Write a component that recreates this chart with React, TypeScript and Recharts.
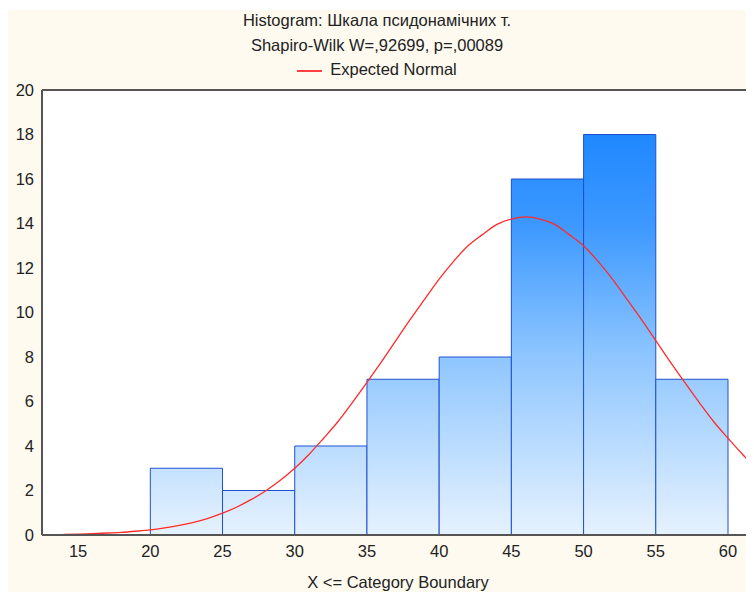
import React from 'react';
import { ComposedChart, Line, XAxis, YAxis, CartesianGrid, ReferenceArea, ReferenceLine } from 'recharts';

// histogram bins (lower bound, upper bound, count)
const binStarts = [20, 25, 30, 35, 40, 45, 50, 55];
const binEnds = [25, 30, 35, 40, 45, 50, 55, 60];
const binCounts = [3, 2, 4, 7, 8, 16, 18, 7];

// expected normal curve
const curveX = [14, 15, 16, 17, 18, 19, 20, 21, 22, 23, 24, 25, 26, 27, 28, 29, 30, 31, 32, 33, 34, 35, 36, 37, 38,
  39, 40, 41, 42, 43, 44, 45, 46, 47, 48, 49, 50, 51, 52, 53, 54, 55, 56, 57, 58, 59, 60, 61, 62];
const curveY = [0.03, 0.04, 0.06, 0.09, 0.12, 0.17, 0.23, 0.32, 0.43, 0.57, 0.75, 0.98, 1.26, 1.6, 1.99, 2.46, 3.0,
  3.63, 4.35, 5.1, 5.96, 6.86, 7.78, 8.74, 9.69, 10.6, 11.5, 12.3, 13.0, 13.5, 13.96, 14.2, 14.3, 14.2, 13.96, 13.5,
  13.0, 12.3, 11.5, 10.6, 9.69, 8.74, 7.78, 6.86, 5.96, 5.1, 4.35, 3.63, 3.0];

const xTicks = [15, 20, 25, 30, 35, 40, 45, 50, 55, 60];
const yTicks = [0, 2, 4, 6, 8, 10, 12, 14, 16, 18, 20];

const curveData = curveX.map((x, i) => ({ x, y: curveY[i] }));

const FONT = '"Liberation Sans", Arial, sans-serif';

const App = () => {
  return (
    <div style={{ position: 'relative', width: 746, height: 582, marginTop: 2, background: '#fefaf0', fontFamily: FONT }}>
      <div style={{ position: 'absolute', left: 0, width: 738, top: -2, textAlign: 'center', fontSize: 16.5, color: '#222', lineHeight: '24.5px' }}>
        <div>Histogram: Шкала псидонамічних т.</div>
        <div>Shapiro-Wilk W=,92699, p=,00089</div>
        <div>
          <span style={{ display: 'inline-block', width: 25, height: 0, borderTop: '2px solid #ff4040', verticalAlign: 'middle', marginRight: 8 }} />
          Expected Normal
        </div>
      </div>
      <ComposedChart width={746} height={582} data={curveData} margin={{ top: 80, right: 0, bottom: 0, left: 0 }}>
        <defs>
          <linearGradient id="barFill" gradientUnits="userSpaceOnUse" x1="0" y1="80" x2="0" y2="525">
            <stop offset="0%" stopColor="#1280ff" />
            <stop offset="30%" stopColor="#3c98ff" />
            <stop offset="60%" stopColor="#8fc6ff" />
            <stop offset="100%" stopColor="#e6f2fe" />
          </linearGradient>
        </defs>
        <rect x={34} y={80} width={712} height={445} fill="#ffffff" />
        <CartesianGrid horizontal vertical={false} stroke="#dddddd" />
        <XAxis
          dataKey="x"
          type="number"
          domain={[12.5, 61.8]}
          ticks={xTicks}
          allowDataOverflow
          height={57}
          tickLine={false}
          tickMargin={4}
          axisLine={{ stroke: '#555', strokeWidth: 2 }}
          tick={{ fill: '#222', fontSize: 16.5, fontFamily: FONT }}
          label={{ value: 'X <= Category Boundary', position: 'insideBottom', offset: 4, fill: '#222', fontSize: 16.5, fontFamily: FONT }}
        />
        <YAxis
          type="number"
          domain={[0, 20]}
          ticks={yTicks}
          width={34}
          tickLine={false}
          tickMargin={2}
          axisLine={{ stroke: '#555', strokeWidth: 2 }}
          tick={{ fill: '#222', fontSize: 16.5, fontFamily: FONT }}
        />
        {binStarts.map((s, i) => (
          <ReferenceArea
            key={s}
            x1={s}
            x2={binEnds[i]}
            y1={0}
            y2={binCounts[i]}
            fill="url(#barFill)"
            fillOpacity={1}
            stroke="#1f50d0"
            strokeWidth={1}
          />
        ))}
        <ReferenceLine y={20} stroke="#555" strokeWidth={2} />
        <Line type="monotone" dataKey="y" stroke="#ff2a2a" strokeWidth={1.3} dot={false} isAnimationActive={false} />
      </ComposedChart>
    </div>
  );
};

export default App;
